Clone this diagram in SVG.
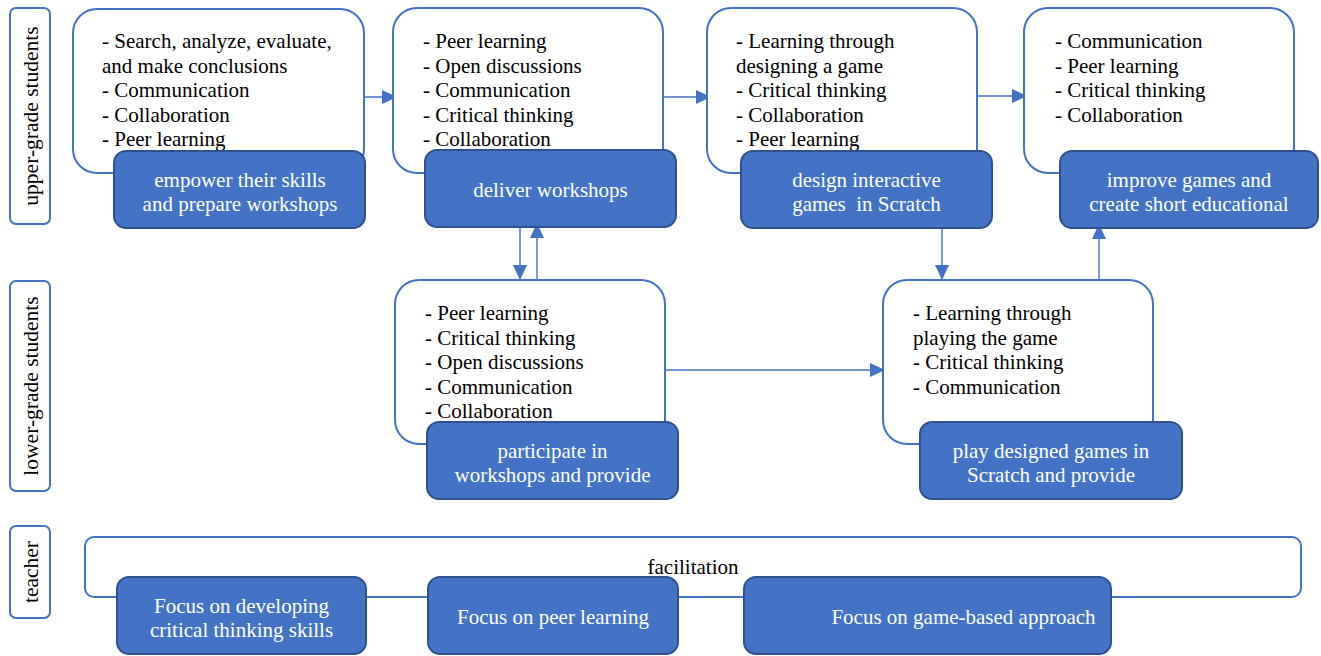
<svg xmlns="http://www.w3.org/2000/svg" width="1321" height="656" viewBox="0 0 1321 656">
  <style>
    .lane { fill: #fff; stroke: #4472C4; stroke-width: 2; }
    .lane-text { font-family: "Liberation Serif", "Times New Roman", serif; font-size: 21.5px; fill: #000; }
    .card { fill: #fff; stroke: #4472C4; stroke-width: 2; }
    .act { fill: #4472C4; stroke: #2F528F; stroke-width: 2; }
    .txt { font-family: "Liberation Serif", "Times New Roman", serif; font-size: 21px; fill: #000; }
    .wtxt { font-family: "Liberation Serif", "Times New Roman", serif; font-size: 21px; fill: #fff; text-anchor: middle; }
    .conn { stroke: #4472C4; stroke-width: 1.4; fill: none; marker-end: url(#arrow); }
  </style>
  <defs>
    <marker id="arrow" markerUnits="userSpaceOnUse" markerWidth="16" markerHeight="14" refX="15" refY="7" orient="auto">
      <path d="M0,0 L15,7 L0,14 Z" fill="#4472C4"/>
    </marker>
  </defs>
  <rect width="1321" height="656" fill="#fff"/>

  <!-- swimlane labels -->
  <g id="lane-upper">
    <rect class="lane" x="10" y="8" width="40" height="216" rx="6"/>
    <text class="lane-text" transform="translate(38,116) rotate(-90)" text-anchor="middle">upper-grade students</text>
  </g>
  <g id="lane-lower">
    <rect class="lane" x="10" y="281" width="40" height="210" rx="6"/>
    <text class="lane-text" transform="translate(38,386) rotate(-90)" text-anchor="middle">lower-grade students</text>
  </g>
  <g id="lane-teacher">
    <rect class="lane" x="10" y="526" width="40" height="92" rx="6"/>
    <text class="lane-text" transform="translate(38,572) rotate(-90)" text-anchor="middle">teacher</text>
  </g>

  <!-- connectors -->
  <g id="connectors">
    <line class="conn" x1="348" y1="97" x2="397" y2="97"/>
    <line class="conn" x1="663" y1="97" x2="711" y2="97"/>
    <line class="conn" x1="977" y1="96" x2="1027" y2="96"/>
    <line class="conn" x1="520" y1="227" x2="520" y2="280"/>
    <line class="conn" x1="537" y1="280" x2="537" y2="223"/>
    <line class="conn" x1="942" y1="228" x2="942" y2="280"/>
    <line class="conn" x1="1099" y1="280" x2="1099" y2="224"/>
    <line class="conn" x1="665" y1="370" x2="885" y2="370"/>
  </g>

  <!-- upper-grade: step 1 -->
  <g id="upper-1">
    <rect class="card" x="73" y="9" width="291" height="164" rx="24"/>
    <text class="txt" x="102" y="48">
      <tspan x="102">- Search, analyze, evaluate,</tspan>
      <tspan x="102" dy="24.5">and make conclusions</tspan>
      <tspan x="102" dy="24.5">- Communication</tspan>
      <tspan x="102" dy="24.5">- Collaboration</tspan>
      <tspan x="102" dy="24.5">- Peer learning</tspan>
    </text>
    <rect class="act" x="114" y="151" width="251" height="77" rx="12"/>
    <text class="wtxt" x="240" y="187">empower their skills</text>
    <text class="wtxt" x="240" y="211">and prepare workshops</text>
  </g>

  <!-- upper-grade: step 2 -->
  <g id="upper-2">
    <rect class="card" x="393" y="8" width="270" height="165" rx="24"/>
    <text class="txt" x="423" y="48">
      <tspan x="423">- Peer learning</tspan>
      <tspan x="423" dy="24.5">- Open discussions</tspan>
      <tspan x="423" dy="24.5">- Communication</tspan>
      <tspan x="423" dy="24.5">- Critical thinking</tspan>
      <tspan x="423" dy="24.5">- Collaboration</tspan>
    </text>
    <rect class="act" x="425" y="150" width="251" height="77" rx="12"/>
    <text class="wtxt" x="550.5" y="197">deliver workshops</text>
  </g>

  <!-- upper-grade: step 3 -->
  <g id="upper-3">
    <rect class="card" x="707" y="8" width="270" height="165" rx="24"/>
    <text class="txt" x="736" y="48">
      <tspan x="736">- Learning through</tspan>
      <tspan x="736" dy="24.5">designing a game</tspan>
      <tspan x="736" dy="24.5">- Critical thinking</tspan>
      <tspan x="736" dy="24.5">- Collaboration</tspan>
      <tspan x="736" dy="24.5">- Peer learning</tspan>
    </text>
    <rect class="act" x="741" y="151" width="251" height="77" rx="12"/>
    <text class="wtxt" x="866.5" y="187">design interactive</text>
    <text class="wtxt" x="866.5" y="211" xml:space="preserve">games  in Scratch</text>
  </g>

  <!-- upper-grade: step 4 -->
  <g id="upper-4">
    <rect class="card" x="1024" y="8" width="270" height="165" rx="24"/>
    <text class="txt" x="1055" y="48">
      <tspan x="1055">- Communication</tspan>
      <tspan x="1055" dy="24.5">- Peer learning</tspan>
      <tspan x="1055" dy="24.5">- Critical thinking</tspan>
      <tspan x="1055" dy="24.5">- Collaboration</tspan>
    </text>
    <rect class="act" x="1060" y="151" width="258" height="77" rx="12"/>
    <text class="wtxt" x="1189" y="187">improve games and</text>
    <text class="wtxt" x="1189" y="211">create short educational</text>
  </g>

  <!-- lower-grade: workshops -->
  <g id="lower-1">
    <rect class="card" x="395" y="280" width="270" height="164" rx="24"/>
    <text class="txt" x="425" y="320">
      <tspan x="425">- Peer learning</tspan>
      <tspan x="425" dy="24.5">- Critical thinking</tspan>
      <tspan x="425" dy="24.5">- Open discussions</tspan>
      <tspan x="425" dy="24.5">- Communication</tspan>
      <tspan x="425" dy="24.5">- Collaboration</tspan>
    </text>
    <rect class="act" x="427" y="422" width="251" height="77" rx="12"/>
    <text class="wtxt" x="552.5" y="458">participate in</text>
    <text class="wtxt" x="552.5" y="482">workshops and provide</text>
  </g>

  <!-- lower-grade: playing games -->
  <g id="lower-2">
    <rect class="card" x="883" y="280" width="270" height="164" rx="24"/>
    <text class="txt" x="913" y="320">
      <tspan x="913">- Learning through</tspan>
      <tspan x="913" dy="24.5">playing the game</tspan>
      <tspan x="913" dy="24.5">- Critical thinking</tspan>
      <tspan x="913" dy="24.5">- Communication</tspan>
    </text>
    <rect class="act" x="920" y="422" width="262" height="77" rx="12"/>
    <text class="wtxt" x="1051" y="458">play designed games in</text>
    <text class="wtxt" x="1051" y="482">Scratch and provide</text>
  </g>

  <!-- teacher -->
  <g id="teacher">
    <rect class="card" x="85" y="537" width="1216" height="60" rx="9"/>
    <text class="txt" x="693" y="574" text-anchor="middle">facilitation</text>
  </g>
  <g id="teacher-1">
    <rect class="act" x="117" y="577" width="249" height="77" rx="12"/>
    <text class="wtxt" x="241.5" y="613">Focus on developing</text>
    <text class="wtxt" x="241.5" y="637">critical thinking skills</text>
  </g>
  <g id="teacher-2">
    <rect class="act" x="428" y="577" width="250" height="77" rx="12"/>
    <text class="wtxt" x="553" y="624">Focus on peer learning</text>
  </g>
  <g id="teacher-3">
    <rect class="act" x="744" y="577" width="367" height="77" rx="12"/>
    <text class="wtxt" x="963.5" y="624">Focus on game-based approach</text>
  </g>
</svg>
